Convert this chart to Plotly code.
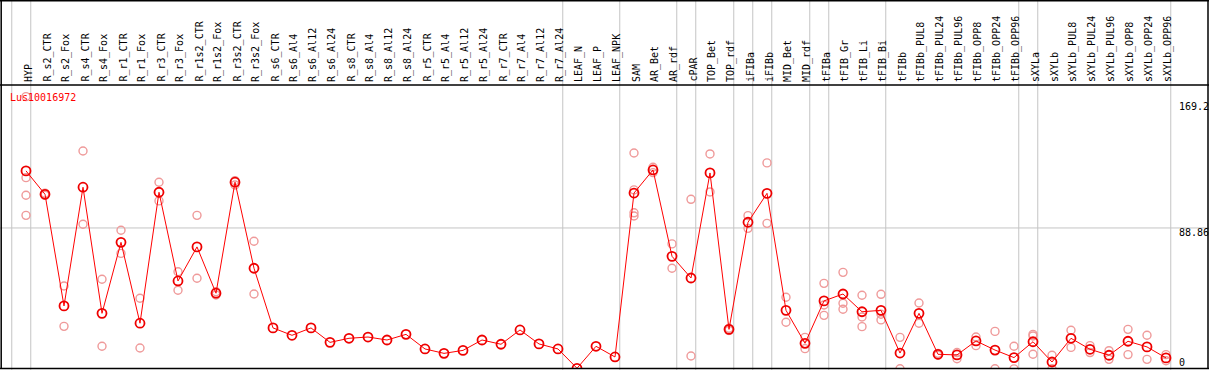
import plotly.graph_objects as go

title = "Lus10016972"
categories = [
    "HYP", "R_s2_CTR", "R_s2_Fox", "R_s4_CTR", "R_s4_Fox", "R_r1_CTR", "R_r1_Fox",
    "R_r3_CTR", "R_r3_Fox", "R_r1s2_CTR", "R_r1s2_Fox", "R_r3s2_CTR", "R_r3s2_Fox",
    "R_s6_CTR", "R_s6_Al4", "R_s6_Al12", "R_s6_Al24", "R_s8_CTR", "R_s8_Al4",
    "R_s8_Al12", "R_s8_Al24", "R_r5_CTR", "R_r5_Al4", "R_r5_Al12", "R_r5_Al24",
    "R_r7_CTR", "R_r7_Al4", "R_r7_Al12", "R_r7_Al24", "LEAF_N", "LEAF_P", "LEAF_NPK",
    "SAM", "AR_Bet", "AR_rdf", "cPAR", "TOP_Bet", "TOP_rdf", "iFIBa", "iFIBb",
    "MID_Bet", "MID_rdf", "tFIBa", "tFIB_Gr", "tFIB_Li", "tFIB_Bi", "tFIBb",
    "tFIBb_PUL8", "tFIBb_PUL24", "tFIBb_PUL96", "tFIBb_OPP8", "tFIBb_OPP24", "tFIBb_OPP96",
    "sXYLa", "sXYLb", "sXYLb_PUL8", "sXYLb_PUL24", "sXYLb_PUL96", "sXYLb_OPP8",
    "sXYLb_OPP24", "sXYLb_OPP96",
]

means = [
    125.2, 110.3, 39.2, 114.8, 34.5, 79.7, 28.2, 111.6, 55.1, 76.8, 47.3, 118.0, 63.2,
    25.2, 20.5, 25.2, 16.0, 18.6, 19.4, 17.5, 21.1, 11.8, 9.0, 10.9, 17.5,
    14.8, 23.9, 15.0, 11.8, -0.5, 13.5, 6.7,
    111.1, 125.8, 70.8, 57.0, 123.9, 24.3, 92.5, 110.9,
    36.4, 15.4, 42.4, 46.8, 35.5, 36.4, 9.2,
    34.5, 8.4, 8.0, 16.9, 11.1, 6.3,
    16.4, 3.5, 18.6, 11.6, 7.8, 16.7, 13.1, 6.1,
]

replicates = [
    [120.9, 109.7, 96.9, 172.5], [111.0, 109.6], [51.9, 26.2], [137.9, 91.2], [56.2, 13.5],
    [87.4, 72.7], [44.1, 12.4], [118.0, 106.1], [61.0, 49.2], [96.9, 56.8], [48.3, 46.2],
    [119.0, 116.2], [80.4, 46.8],
    [], [], [], [], [], [], [], [], [], [], [], [], [], [], [], [], [], [], [],
    [136.6, 113.1, 98.5, 96.5], [127.5, 124.1], [78.7, 63.2], [107.1, 7.3], [136.0, 111.8],
    [25.0, 23.6], [96.7, 88.6], [130.3, 91.8], [44.7, 28.8], [19.2, 12.0],
    [53.6, 39.8, 33.2], [60.6, 40.9, 37.1], [46.0, 32.2, 26.0], [46.6, 33.9, 30.3],
    [19.2, -0.8],
    [41.1, 28.2], [9.0, 7.8], [9.5, 5.6], [19.4, 13.9], [23.0, -0.8], [13.5, -0.9],
    [21.1, 20.1, 8.4], [7.8, -0.8], [23.7, 12.8], [13.9, 9.5], [10.7, 5.2], [24.3, 8.2],
    [20.5, 5.2], [8.2, 4.3],
]

# separators drawn after these categories (and before the first)
group_ends = ["HYP", "R_r7_Al24", "LEAF_NPK", "AR_rdf", "cPAR", "TOP_rdf", "iFIBa",
              "iFIBb", "MID_rdf", "tFIBa", "tFIB_Bi", "tFIBb_OPP96", "sXYLa", "sXYLb_OPP96"]

y_ticks = [169.2, 88.86, 0]
y_tick_text = ["169.2", "88.86", "0"]

W, H = 1209, 370
T, B = 85, 1
MONO = "DejaVu Sans Mono"

xi = list(range(len(categories)))
rx, ry = [], []
for i, reps in enumerate(replicates):
    for v in reps:
        rx.append(i)
        ry.append(v)

fig = go.Figure()
fig.add_trace(go.Scatter(
    x=rx, y=ry, mode="markers",
    marker=dict(symbol="circle-open", size=8, color="#ef9a9a", line=dict(width=1.4, color="#ef9a9a")),
    hoverinfo="skip",
))
fig.add_trace(go.Scatter(
    x=xi, y=means, mode="lines+markers",
    line=dict(color="#ff0000", width=1),
    marker=dict(symbol="circle-open", size=9, color="#ee0000", line=dict(width=1.8, color="#ee0000")),
))

plot_h = H - T - B
top_paper = 1 + T / plot_h

shapes = []
offs = 0.25
positions = [-1 + offs] + [categories.index(c) + offs for c in group_ends]
for p in positions:
    shapes.append(dict(type="line", xref="x", yref="paper", x0=p, x1=p, y0=-0.01, y1=top_paper + 0.01,
                       line=dict(color="#c4c4c4", width=1), layer="below"))
shapes.append(dict(type="line", xref="paper", yref="y", x0=0, x1=1, y0=y_ticks[1], y1=y_ticks[1],
                   line=dict(color="#c4c4c4", width=1), layer="below"))
black = dict(color="#000000", width=1.5)
shapes.append(dict(type="line", xref="paper", yref="paper", x0=0, x1=1, y0=top_paper - 0.7 / plot_h,
                   y1=top_paper - 0.7 / plot_h, line=black))
shapes.append(dict(type="line", xref="paper", yref="paper", x0=0, x1=1, y0=1, y1=1, line=black))
shapes.append(dict(type="line", xref="paper", yref="paper", x0=0, x1=1, y0=0.5 / plot_h, y1=0.5 / plot_h, line=black))
shapes.append(dict(type="line", xref="paper", yref="paper", x0=1.2 / W, x1=1.2 / W, y0=0, y1=top_paper, line=black))
shapes.append(dict(type="line", xref="paper", yref="paper", x0=1 - 1 / W, x1=1 - 1 / W, y0=0, y1=top_paper, line=black))

annotations = []
for i, c in enumerate(categories):
    annotations.append(dict(x=i, y=1 + 2 / plot_h, xref="x", yref="paper", text=c, textangle=-90,
                            showarrow=False, xanchor="center", yanchor="bottom", borderpad=0, xshift=2,
                            font=dict(family=MONO, size=10, color="#000000")))
for v, t in zip(y_ticks, y_tick_text):
    annotations.append(dict(x=1177 / W, y=v, xref="paper", yref="y", text=t, showarrow=False,
                            xanchor="left", yanchor="middle", yshift=(5 if v == 0 else -5),
                            font=dict(family=MONO, size=10, color="#000000")))
annotations.append(dict(x=8 / W, y=(H - B - 97.5) / plot_h, xref="paper", yref="paper", text=title,
                        showarrow=False, xanchor="left", yanchor="middle",
                        font=dict(family=MONO, size=10, color="#ff0000")))

x0 = -26 / 19
x1 = x0 + W / 19
fig.update_layout(
    width=W, height=H,
    margin=dict(l=0, r=0, t=T, b=B, pad=0),
    paper_bgcolor="white", plot_bgcolor="white",
    showlegend=False,
    xaxis=dict(range=[x0, x1], visible=False, fixedrange=True),
    yaxis=dict(range=[-0.96, 179.9], visible=False, fixedrange=True),
    shapes=shapes, annotations=annotations,
)

fig.write_html("out.html", config={"displayModeBar": False},
               post_script="document.body.style.margin='0';document.body.style.overflow='hidden';")
